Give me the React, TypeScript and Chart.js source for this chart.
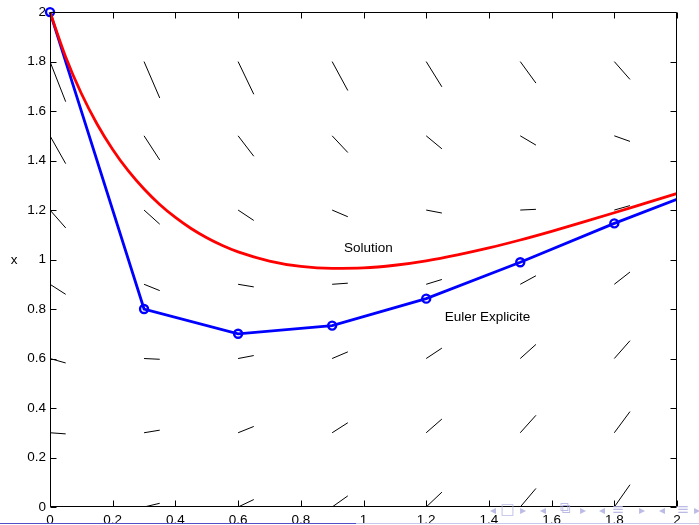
import { useEffect, useRef } from 'react';
import { Chart, registerables } from 'chart.js';

Chart.register(...registerables);

// ---- data ----
// Exact solution curve (red)
const SOL_T = [0, 0.05, 0.1, 0.15, 0.2, 0.25, 0.3, 0.35, 0.4, 0.45, 0.5, 0.55, 0.6, 0.7, 0.8, 0.9, 1.0, 1.1, 1.2, 1.3, 1.4, 1.5, 1.6, 1.7, 1.8, 1.9, 2.0];
const SOL_X = [2, 1.819, 1.671, 1.548, 1.445, 1.358, 1.285, 1.2225, 1.17, 1.1253, 1.088, 1.0567, 1.031, 0.994, 0.972, 0.964, 0.966, 0.977, 0.995, 1.019, 1.047, 1.079, 1.114, 1.151, 1.189, 1.228, 1.267];

// Explicit Euler (blue, step 0.3)
const EULER_T = [0, 0.3, 0.6, 0.9, 1.2, 1.5, 1.8, 2.1];
const EULER_X = [2, 0.8, 0.7, 0.733, 0.842, 0.989, 1.146, 1.292];

// Direction field: grid nodes and slopes (rows = X_GRID, cols = T_GRID)
const T_GRID = [0, 0.3, 0.6, 0.9, 1.2, 1.5, 1.8];
const X_GRID = [0, 0.3, 0.6, 0.9, 1.2, 1.5, 1.8];
const SLOPES = [
  [0, 0.3, 0.6, 0.9, 1.2, 1.5, 1.8],
  [-0.09, 0.21, 0.51, 0.81, 1.11, 1.41, 1.71],
  [-0.36, -0.06, 0.24, 0.54, 0.84, 1.14, 1.44],
  [-0.81, -0.51, -0.21, 0.09, 0.39, 0.69, 0.99],
  [-1.44, -1.14, -0.84, -0.54, -0.24, 0.06, 0.36],
  [-2.25, -1.95, -1.65, -1.35, -1.05, -0.75, -0.45],
  [-3.24, -2.94, -2.64, -2.34, -2.04, -1.74, -1.44],
];
const SEG_DT = 0.05;

// Axis ticks
const X_TICKS = [0, 0.2, 0.4, 0.6, 0.8, 1, 1.2, 1.4, 1.6, 1.8, 2];
const Y_TICKS = [0, 0.2, 0.4, 0.6, 0.8, 1, 1.2, 1.4, 1.6, 1.8, 2];

// Text annotations
const LABEL_TEXTS = ['Solution', 'Euler Explicite'];
const LABEL_T = [0.938, 1.259];
const LABEL_X = [1.03, 0.753];
const Y_LABEL = 'x';

const FONT = '"Liberation Sans", Arial, Helvetica, sans-serif';
const FS = 13.5;

function fmt(v: number) {
  return String(Number(Number(v).toFixed(1)));
}

export default function App() {
  const ref = useRef<HTMLCanvasElement>(null);

  useEffect(() => {
    document.body.style.margin = '0';
    const canvas = ref.current!;

    const segData: any[] = [];
    X_GRID.forEach((xv, j) => {
      T_GRID.forEach((tv, i) => {
        segData.push({ x: tv, y: xv });
        segData.push({ x: tv + SEG_DT, y: xv + SEG_DT * SLOPES[j][i] });
        segData.push({ x: tv + SEG_DT, y: null });
      });
    });

    const solData = SOL_T.map((t, i) => ({ x: t, y: SOL_X[i] }));
    const eulerData = EULER_T.map((t, i) => ({ x: t, y: EULER_X[i] }));

    const decor = {
      id: 'decor',
      afterDatasetsDraw(chart: any) {
        const { ctx, chartArea: a, scales } = chart;
        const sx = scales.x;
        const sy = scales.y;
        ctx.save();
        // annotations
        ctx.font = `${FS}px ${FONT}`;
        ctx.fillStyle = '#000';
        ctx.textAlign = 'left';
        ctx.textBaseline = 'alphabetic';
        LABEL_TEXTS.forEach((txt, i) => {
          ctx.fillText(txt, sx.getPixelForValue(LABEL_T[i]), sy.getPixelForValue(LABEL_X[i]));
        });
        // y label
        ctx.textAlign = 'center';
        ctx.fillText(Y_LABEL, 14, (a.top + a.bottom) / 2 + 4);

        // box
        ctx.strokeStyle = '#000';
        ctx.lineWidth = 1;
        const L = Math.round(a.left) + 0.5;
        const R = Math.round(a.right) - 0.5;
        const T = Math.round(a.top) + 0.5;
        const B = Math.round(a.bottom) - 0.5;
        ctx.beginPath();
        ctx.rect(L, T, R - L, B - T);
        ctx.stroke();
        // inner ticks
        const tl = 6;
        ctx.beginPath();
        X_TICKS.forEach((v) => {
          const p = Math.round(sx.getPixelForValue(v)) + 0.5;
          ctx.moveTo(p, B); ctx.lineTo(p, B - tl);
          ctx.moveTo(p, T); ctx.lineTo(p, T + tl);
        });
        Y_TICKS.forEach((v) => {
          const p = Math.round(sy.getPixelForValue(v)) + 0.5;
          ctx.moveTo(L, p); ctx.lineTo(L + tl, p);
          ctx.moveTo(R, p); ctx.lineTo(R - tl, p);
        });
        ctx.stroke();
        ctx.restore();
      },
      afterDraw(chart: any) {
        const { ctx, width } = chart;
        ctx.save();
        // beamer bottom bar
        ctx.lineWidth = 1;
        ctx.strokeStyle = 'rgb(80,80,200)';
        ctx.beginPath(); ctx.moveTo(0, 523.5); ctx.lineTo(356, 523.5); ctx.stroke();
        ctx.strokeStyle = 'rgb(200,200,235)';
        ctx.beginPath(); ctx.moveTo(356, 523.5); ctx.lineTo(width, 523.5); ctx.stroke();
        // navigation symbols
        ctx.fillStyle = 'rgba(175,175,225,0.85)';
        ctx.strokeStyle = 'rgba(175,175,225,0.85)';
        ctx.font = '12px "DejaVu Sans", sans-serif';
        ctx.textBaseline = 'middle';
        ctx.textAlign = 'center';
        const tris: [string, number][] = [
          ['◂', 493], ['▸', 523],
          ['◂', 543], ['▸', 583],
          ['◂', 602], ['▸', 642],
          ['◂', 662], ['▸', 697],
        ];
        tris.forEach(([s, x]) => ctx.fillText(s, x, 511));
        ctx.font = '15px "DejaVu Sans", sans-serif';
        ctx.fillText('□', 507.5, 510);
        ctx.fillText('⧉', 565, 509);
        ctx.fillText('≡', 618, 510);
        ctx.fillText('≡', 683, 510);
        ctx.restore();
      },
    };

    const tickFont = { family: FONT, size: FS };

    const chart = new Chart(canvas, {
      type: 'line',
      data: {
        datasets: [
          {
            data: solData,
            borderColor: '#ff0000',
            borderWidth: 2.8,
            pointRadius: 0,
            cubicInterpolationMode: 'monotone',
            fill: false,
          },
          {
            data: eulerData,
            borderColor: '#0000ff',
            borderWidth: 2.8,
            pointRadius: 4,
            pointBorderWidth: 2.4,
            pointBorderColor: '#0000ff',
            pointBackgroundColor: 'rgba(0,0,0,0)',
            tension: 0,
            fill: false,
            clip: { left: 10, top: 10, right: 0, bottom: 0 },
          },
          {
            data: segData,
            borderColor: '#000000',
            borderWidth: 1,
            pointRadius: 0,
            tension: 0,
            spanGaps: false,
            fill: false,
          },
        ],
      } as any,
      options: {
        responsive: false,
        animation: false,
        events: [],
        layout: { padding: { top: 12, right: 22, left: 0, bottom: 0 } },
        plugins: { legend: { display: false }, tooltip: { enabled: false }, title: { display: false } },
        scales: {
          x: {
            type: 'linear',
            min: 0,
            max: 2,
            grid: { display: false, drawTicks: false },
            border: { display: false },
            afterBuildTicks: (s: any) => { s.ticks = X_TICKS.map((v) => ({ value: v })); },
            afterFit: (s: any) => { s.height = 18; },
            ticks: {
              autoSkip: false,
              maxRotation: 0,
              padding: 5,
              color: '#000',
              font: tickFont,
              callback: (v: any) => fmt(v),
            },
          },
          y: {
            type: 'linear',
            min: 0,
            max: 2,
            grid: { display: false, drawTicks: false },
            border: { display: false },
            afterBuildTicks: (s: any) => { s.ticks = Y_TICKS.map((v) => ({ value: v })); },
            afterFit: (s: any) => { s.width = 50; },
            ticks: {
              autoSkip: false,
              padding: 4,
              color: '#000',
              font: tickFont,
              callback: (v: any) => fmt(v),
            },
          },
        },
      } as any,
      plugins: [decor],
    });

    return () => chart.destroy();
  }, []);

  return (
    <div style={{ width: 699, height: 525, background: '#fff' }}>
      <canvas ref={ref} width={699} height={525} style={{ display: 'block' }} />
    </div>
  );
}
